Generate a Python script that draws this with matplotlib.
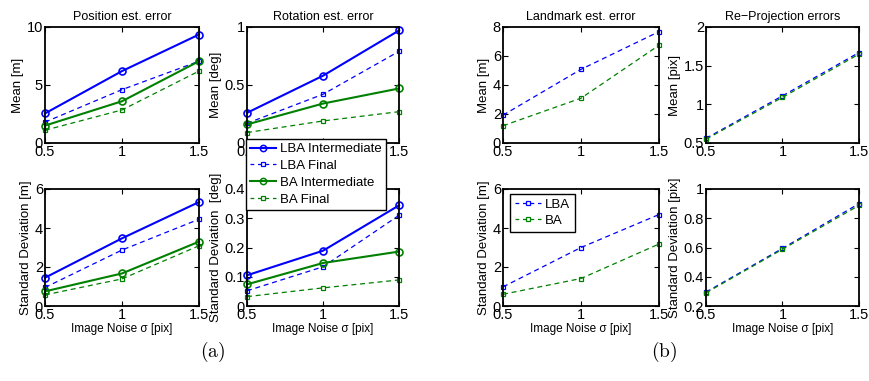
import matplotlib
matplotlib.use("Agg")
import matplotlib.pyplot as plt
from matplotlib.lines import Line2D

plt.rcParams['font.family'] = ['Liberation Sans', 'DejaVu Sans']
plt.rcParams['mathtext.fontset'] = 'cm'

noise = [0.5, 1.0, 1.5]
xticks = [0.5, 1, 1.5]
xtick_labels = ['0.5', '1', '1.5']

# Position est. error
pos_mean_lba_int = [2.55, 6.2, 9.35]
pos_mean_lba_fin = [1.8, 4.6, 7.05]
pos_mean_ba_int = [1.5, 3.6, 7.05]
pos_mean_ba_fin = [1.1, 2.85, 6.2]
pos_std_lba_int = [1.45, 3.47, 5.33]
pos_std_lba_fin = [0.95, 2.87, 4.45]
pos_std_ba_int = [0.75, 1.67, 3.3]
pos_std_ba_fin = [0.57, 1.39, 3.09]

# Rotation est. error
rot_mean_lba_int = [0.26, 0.58, 0.97]
rot_mean_lba_fin = [0.17, 0.42, 0.79]
rot_mean_ba_int = [0.16, 0.34, 0.47]
rot_mean_ba_fin = [0.09, 0.19, 0.27]
rot_std_lba_int = [0.105, 0.189, 0.344]
rot_std_lba_fin = [0.052, 0.134, 0.31]
rot_std_ba_int = [0.074, 0.147, 0.186]
rot_std_ba_fin = [0.032, 0.062, 0.089]

# Landmark est. error
lm_mean_lba = [1.92, 5.08, 7.68]
lm_mean_ba = [1.19, 3.09, 6.74]
lm_std_lba = [0.98, 3.0, 4.69]
lm_std_ba = [0.6, 1.41, 3.18]

# Re-projection errors
rp_mean_lba = [0.56, 1.11, 1.67]
rp_mean_ba = [0.55, 1.09, 1.65]
rp_std_lba = [0.295, 0.594, 0.9]
rp_std_ba = [0.29, 0.588, 0.888]

BLUE = '#0000ff'
GREEN = '#008000'

W, H = 870, 381
fig = plt.figure(figsize=(W / 100, H / 100), dpi=100)


def make_ax(x0, x1, y0, y1):
    return fig.add_axes([x0 / W, 1 - y1 / H, (x1 - x0) / W, (y1 - y0) / H])


def style(ax, yticks, ylim, ylabel, title=None, xlabel=None):
    ax.set_xlim(0.5, 1.5)
    ax.set_ylim(*ylim)
    ax.set_xticks(xticks)
    ax.set_xticklabels(xtick_labels)
    ax.set_yticks(yticks)
    ax.set_yticklabels([('%g' % t) for t in yticks])
    ax.tick_params(direction='in', top=True, right=True, length=3.5, width=0.8,
                   labelsize=10.5, pad=1.5)
    for s in ax.spines.values():
        s.set_linewidth(1.3)
    ax.set_ylabel(ylabel, fontsize=9.5, labelpad=2)
    if title:
        ax.set_title(title, fontsize=9, pad=5)
    if xlabel:
        ax.set_xlabel(xlabel, fontsize=8.5, labelpad=1)


def plot4(ax, a, b, c, d):
    ax.plot(noise, a, '-', color=BLUE, lw=1.5, marker='o', ms=5, mfc='none', mew=1.2)
    ax.plot(noise, b, '--', color=BLUE, lw=0.9, marker='s', ms=3.5, mfc='none', mew=0.9, dashes=(4, 3))
    ax.plot(noise, c, '-', color=GREEN, lw=1.5, marker='o', ms=5, mfc='none', mew=1.2)
    ax.plot(noise, d, '--', color=GREEN, lw=0.9, marker='s', ms=3.5, mfc='none', mew=0.9, dashes=(4, 3))
    for ln in ax.lines:
        ln.set_clip_on(False)


def plot2(ax, a, b):
    ax.plot(noise, a, '--', color=BLUE, lw=0.9, marker='s', ms=3.5, mfc='none', mew=0.9, dashes=(4, 3))
    ax.plot(noise, b, '--', color=GREEN, lw=0.9, marker='s', ms=3.5, mfc='none', mew=0.9, dashes=(4, 3))
    for ln in ax.lines:
        ln.set_clip_on(False)


XL = 'Image Noise σ [pix]'

ax1 = make_ax(45, 199, 27, 143)
plot4(ax1, pos_mean_lba_int, pos_mean_lba_fin, pos_mean_ba_int, pos_mean_ba_fin)
style(ax1, [0, 5, 10], (0, 10), 'Mean [m]', 'Position est. error')

ax2 = make_ax(247, 399, 27, 143)
plot4(ax2, rot_mean_lba_int, rot_mean_lba_fin, rot_mean_ba_int, rot_mean_ba_fin)
style(ax2, [0, 0.5, 1], (0, 1), 'Mean [deg]', 'Rotation est. error')

ax3 = make_ax(45, 199, 189, 306)
plot4(ax3, pos_std_lba_int, pos_std_lba_fin, pos_std_ba_int, pos_std_ba_fin)
style(ax3, [0, 2, 4, 6], (0, 6), 'Standard Deviation [m]', xlabel=XL)

ax4 = make_ax(247, 399, 189, 306)
plot4(ax4, rot_std_lba_int, rot_std_lba_fin, rot_std_ba_int, rot_std_ba_fin)
style(ax4, [0, 0.1, 0.2, 0.3, 0.4], (0, 0.4), 'Standard Deviation  [deg]', xlabel=XL)

ax5 = make_ax(503, 659, 27, 143)
plot2(ax5, lm_mean_lba, lm_mean_ba)
style(ax5, [0, 2, 4, 6, 8], (0, 8), 'Mean [m]', 'Landmark est. error')

ax6 = make_ax(706, 859, 27, 143)
plot2(ax6, rp_mean_lba, rp_mean_ba)
style(ax6, [0.5, 1, 1.5, 2], (0.5, 2), 'Mean [pix]', 'Re\u2212Projection errors')

ax7 = make_ax(503, 659, 189, 306)
plot2(ax7, lm_std_lba, lm_std_ba)
style(ax7, [0, 2, 4, 6], (0, 6), 'Standard Deviation [m]', xlabel=XL)

ax8 = make_ax(706, 859, 189, 306)
plot2(ax8, rp_std_lba, rp_std_ba)
style(ax8, [0.2, 0.4, 0.6, 0.8, 1], (0.2, 1), 'Standard Deviation [pix]', xlabel=XL)

# Legend (a)
h4 = [
    Line2D([], [], ls='-', color=BLUE, lw=1.5, marker='o', ms=4.5, mfc='none', mew=1.1),
    Line2D([], [], ls='--', color=BLUE, lw=0.9, marker='s', ms=3.5, mfc='none', mew=0.9, dashes=(3, 3)),
    Line2D([], [], ls='-', color=GREEN, lw=1.5, marker='o', ms=4.5, mfc='none', mew=1.1),
    Line2D([], [], ls='--', color=GREEN, lw=0.9, marker='s', ms=3.5, mfc='none', mew=0.9, dashes=(3, 3)),
]
labels4 = ['LBA Intermediate', 'LBA Final', 'BA Intermediate', 'BA Final']
leg1 = fig.legend(h4, labels4, loc='upper left', bbox_to_anchor=(246 / W, 1 - 139 / H),
                  borderaxespad=0, fontsize=9.5, fancybox=False, edgecolor='black',
                  framealpha=1, numpoints=1, handlelength=2.0, handletextpad=0.3,
                  labelspacing=0.35, borderpad=0.3)
leg1.get_frame().set_linewidth(1.0)

# Legend (b)
h2 = [h4[1], h4[3]]
leg2 = fig.legend(h2, ['LBA', 'BA'], loc='upper left', bbox_to_anchor=(510 / W, 1 - 194 / H),
                  borderaxespad=0, fontsize=9.5, fancybox=False, edgecolor='black',
                  framealpha=1, numpoints=1, handlelength=2.0, handletextpad=0.3,
                  labelspacing=0.3, borderpad=0.35)
leg2.get_frame().set_linewidth(1.0)

fig.text(213 / W, 1 - 352 / H, r'$\mathrm{(a)}$', ha='center', va='center', fontsize=14)
fig.text(664 / W, 1 - 352 / H, r'$\mathrm{(b)}$', ha='center', va='center', fontsize=14)

fig.savefig('out.png', dpi=100)
